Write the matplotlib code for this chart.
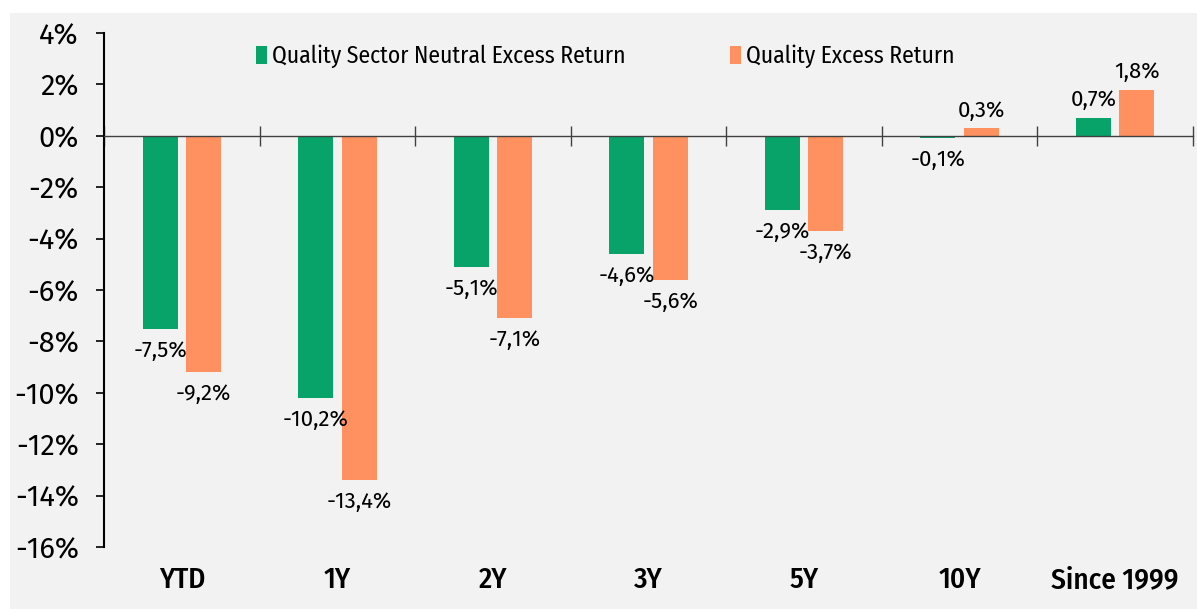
import matplotlib
matplotlib.use("Agg")
import matplotlib.pyplot as plt
from matplotlib.patches import Rectangle
import matplotlib.transforms as mtransforms
import numpy as np

categories = ["YTD", "1Y", "2Y", "3Y", "5Y", "10Y", "Since 1999"]
sector_neutral = [-7.5, -10.2, -5.1, -4.6, -2.9, -0.1, 0.7]
quality_excess = [-9.2, -13.4, -7.1, -5.6, -3.7, 0.3, 1.8]
series_names = ["Quality Sector Neutral Excess Return", "Quality Excess Return"]
y_ticks = [4, 2, 0, -2, -4, -6, -8, -10, -12, -14, -16]

green = "#08a368"
orange = "#ff9060"
bg = "#f2f2f2"

plain = ['Fira Sans', 'DejaVu Sans']
narrow = ['Fira Sans Condensed', 'DejaVu Sans']
plt.rcParams['font.family'] = plain

fig = plt.figure(figsize=(11.97, 6.09), dpi=100)
fig.patches.append(Rectangle((10 / 1197, 0), 1, 1 - 13 / 609, transform=fig.transFigure,
                             facecolor=bg, edgecolor="none", zorder=-10))
ax = fig.add_axes([104 / 1197, 1 - 547 / 609, (1193 - 104) / 1197, (547 - 33) / 609])
ax.set_facecolor("none")

x = np.arange(len(categories))
off = 0.14
w = 0.225
ax.bar(x - off, sector_neutral, w, color=green, label=series_names[0], zorder=2)
ax.bar(x + off, quality_excess, w, color=orange, label=series_names[1], zorder=2)

def fmt(v):
    return ("%.1f%%" % v).replace(".", ",")

for xs, vals in ((x - off, sector_neutral), (x + off, quality_excess)):
    for xi, v in zip(xs, vals):
        if v < 0:
            ax.annotate(fmt(v), (xi, v), xytext=(0, -8), textcoords="offset points",
                        ha="center", va="top", fontsize=16)
        else:
            ax.annotate(fmt(v), (xi, v), xytext=(0, 5), textcoords="offset points",
                        ha="center", va="bottom", fontsize=16)

ax.set_xlim(-0.5, len(categories) - 0.5)
ax.set_ylim(-16, 4)
ax.set_yticks(y_ticks)
ax.set_yticklabels(["%d%%" % t for t in y_ticks], fontsize=21)
ax.tick_params(axis="y", length=6, width=1.2, pad=12)

ax.spines["top"].set_visible(False)
ax.spines["right"].set_visible(False)
ax.spines["left"].set_linewidth(1.5)
ax.spines["bottom"].set_position(("data", 0))
ax.spines["bottom"].set_color("#404040")
ax.spines["bottom"].set_linewidth(1.0)
ax.set_xticks(np.arange(len(categories) + 1) - 0.5)
ax.set_xticklabels([])
ax.tick_params(axis="x", direction="inout", length=14, width=1.0, color="#404040")

trans = mtransforms.blended_transform_factory(ax.transData, fig.transFigure)
for xi, c in zip(x, categories):
    ax.text(xi, 1 - 580 / 609, c, transform=trans, ha="center", va="center",
            fontsize=21, fontweight="medium", family=narrow)

ax.legend(loc="center left", bbox_to_anchor=(0.12, 0.955), ncol=2, frameon=False,
          prop={"family": narrow, "size": 17}, handlelength=0.45, handleheight=0.8,
          handletextpad=0.25, columnspacing=4.4)

fig.savefig("out.png", dpi=100)
